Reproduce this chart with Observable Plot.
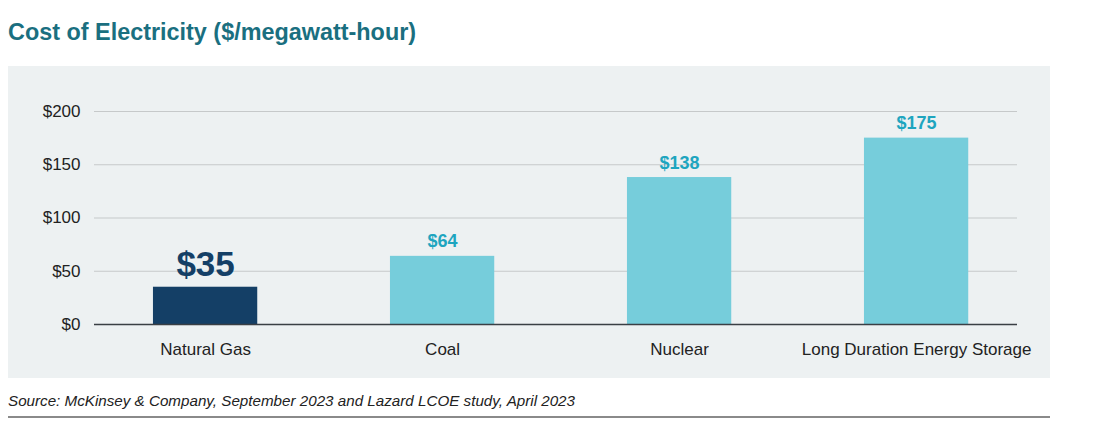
<!DOCTYPE html>
<html>
<head>
<meta charset="utf-8">
<script src="https://cdn.jsdelivr.net/npm/d3@7"></script>
<script src="https://cdn.jsdelivr.net/npm/@observablehq/plot@0.6"></script>
<style>
  html, body { margin: 0; padding: 0; background: #ffffff; }
  body { width: 1098px; height: 422px; position: relative; font-family: "Liberation Sans", Arial, sans-serif; }
  #title { position: absolute; left: 8px; top: 18px; font-size: 23.4px; line-height: 28px; font-weight: bold; color: #1a6f80; white-space: nowrap; }
  #panel { position: absolute; left: 8px; top: 66px; width: 1042px; height: 312px; background: #edf1f2; }
  #caption { position: absolute; left: 8px; top: 392px; font-size: 15.2px; line-height: 17px; font-style: italic; color: #222; white-space: nowrap; }
  #rule { position: absolute; left: 8px; top: 416px; width: 1042px; height: 0; border-top: 2px solid #8a8a8a; }
</style>
</head>
<body>
<div id="title">Cost of Electricity ($/megawatt-hour)</div>
<div id="panel"></div>
<div id="caption">Source: McKinsey &amp; Company, September 2023 and Lazard LCOE study, April 2023</div>
<div id="rule"></div>
<script>
const categories = ["Natural Gas", "Coal", "Nuclear", "Long Duration Energy Storage"];
const costs = [35, 64, 138, 175];
const valueLabels = ["$35", "$64", "$138", "$175"];
const yTicks = [0, 50, 100, 150, 200];
const yTickLabels = ["$0", "$50", "$100", "$150", "$200"];

const data = categories.map((c, i) => ({category: c, cost: costs[i], label: valueLabels[i], highlight: i === 0}));
const highlighted = data.filter(d => d.highlight);
const others = data.filter(d => !d.highlight);

const chart = Plot.plot({
  width: 1042,
  height: 312,
  marginLeft: 86,
  marginRight: 33,
  marginTop: 45,
  marginBottom: 54,
  style: { background: "transparent", fontFamily: "Liberation Sans, Arial, sans-serif", fontSize: "17px", color: "#222" },
  x: { domain: categories, range: [78.6, 1026.6], paddingInner: 0.56, paddingOuter: 0.28, round: false, label: null },
  y: { domain: [0, 200], label: null },
  marks: [
    Plot.ruleY(yTicks.slice(1), { stroke: "#c6c9ca", strokeWidth: 1.2 }),
    Plot.barY(data, { x: "category", y: "cost", fill: d => d.highlight ? "#143f66" : "#76cddb" }),
    Plot.ruleY([0], { stroke: "#3a3f44", strokeWidth: 1.5 }),
    Plot.axisY({ ticks: yTicks, tickFormat: (d) => yTickLabels[yTicks.indexOf(d)], tickSize: 0, tickPadding: 14, fontSize: 17, fill: "#222", label: null }),
    Plot.axisX({ tickSize: 0, tickPadding: 18, fontSize: 17, fill: "#222", label: null }),
    Plot.text(highlighted, { x: "category", y: "cost", text: "label", lineAnchor: "bottom", dy: -11, fontSize: 35, fontWeight: "bold", fill: "#143f66" }),
    Plot.text(others, { x: "category", y: "cost", text: "label", lineAnchor: "bottom", dy: -9, fontSize: 18, fontWeight: "bold", fill: "#1ea5bf" })
  ]
});
document.getElementById("panel").appendChild(chart);
</script>
</body>
</html>
